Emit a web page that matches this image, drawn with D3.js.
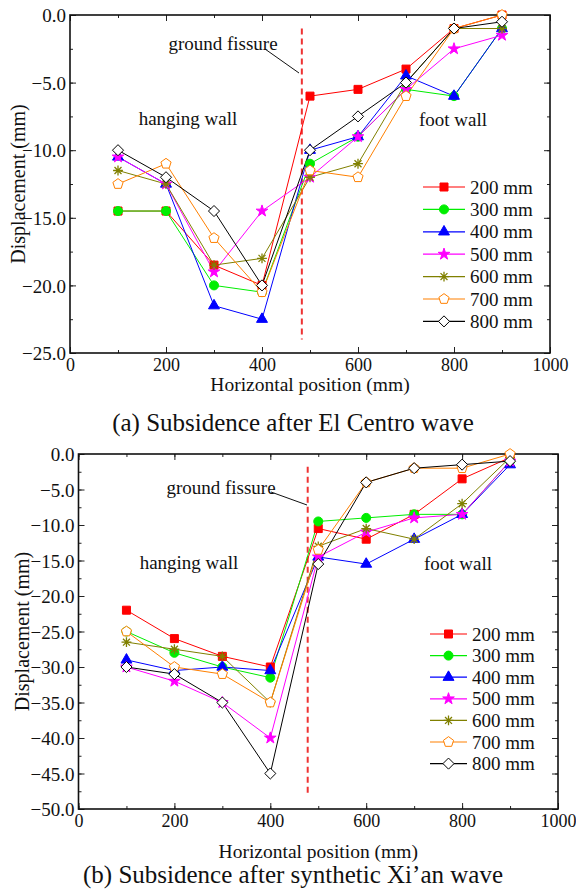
<!DOCTYPE html>
<html>
<head>
<meta charset="UTF-8">
<title>Subsidence</title>
<script src="https://cdn.jsdelivr.net/npm/d3@7/dist/d3.min.js"></script>
<style>
  body { margin: 0; background: #fff; }
  svg text { font-family: "Liberation Serif", "Times New Roman", Times, serif; fill: #111; }
</style>
</head>
<body>
<script>
// horizontal positions of the measuring points
var positions = [100, 200, 300, 400, 500, 600, 700, 800, 900];
var seriesNames = ["200 mm", "300 mm", "400 mm", "500 mm", "600 mm", "700 mm", "800 mm"];

// (a) El Centro wave
var elCentro200 = [-14.5, -14.5, -18.5, -20, -6, -5.5, -4, -1, 0];
var elCentro300 = [-14.5, -14.5, -20, -20.5, -11, -9, -5.5, -6, -1];
var elCentro400 = [-10.5, -12.5, -21.5, -22.5, -10, -9, -4.5, -6, -1];
var elCentro500 = [-10.5, -12.5, -19, -14.5, -12, -9, -5.5, -2.5, -1.5];
var elCentro600 = [-11.5, -12.5, -18.5, -18, -12, -11, -5, -1, -1];
var elCentro700 = [-12.5, -11, -16.5, -20.5, -11.5, -12, -6, -1, 0];
var elCentro800 = [-10, -12, -14.5, -20, -10, -7.5, -5, -1, -0.5];

// (b) synthetic Xi'an wave
var xian200 = [-22, -26, -28.5, -30, -10.5, -12, -8.5, -3.5, -0.5];
var xian300 = [-25, -28, -30, -31.5, -9.5, -9, -8.5, -8.5, -1];
var xian400 = [-29, -30.5, -30, -30.5, -14.5, -15.5, -12, -8.5, -1.5];
var xian500 = [-30, -32, -35, -40, -14.5, -11, -9, -8.5, -1];
var xian600 = [-26.5, -27.5, -28.5, -35, -13, -10.5, -12, -7, -0.5];
var xian700 = [-25, -30, -31, -35, -13.5, -4, -2, -2, 0];
var xian800 = [-30, -31, -35, -45, -15.5, -4, -2, -1.5, -1];

var xTicks = [0, 200, 400, 600, 800, 1000];
var yTicksA = [0, -5, -10, -15, -20, -25];
var yTicksB = [0, -5, -10, -15, -20, -25, -30, -35, -40, -45, -50];

var colors = ["#ff0000", "#00ee00", "#0000ff", "#ff00ff", "#808000", "#ff8000", "#000000"];
var FONT = "Liberation Serif, Times New Roman, serif";

// custom marker shapes
var pentagon = {
  draw: function(ctx, size) {
    var r = Math.sqrt(size) * 0.6;
    for (var i = 0; i < 5; i++) {
      var a = -Math.PI / 2 + i * 2 * Math.PI / 5;
      if (i === 0) ctx.moveTo(r * Math.cos(a), r * Math.sin(a));
      else ctx.lineTo(r * Math.cos(a), r * Math.sin(a));
    }
    ctx.closePath();
  }
};
var asterisk = {
  draw: function(ctx, size) {
    var r = Math.sqrt(size) * 0.55;
    for (var i = 0; i < 4; i++) {
      var a = i * Math.PI / 4;
      ctx.moveTo(r * Math.cos(a), r * Math.sin(a));
      ctx.lineTo(-r * Math.cos(a), -r * Math.sin(a));
    }
  }
};
var diamond = {
  draw: function(ctx, size) {
    var r = Math.sqrt(size) * 0.62;
    ctx.moveTo(0, -r); ctx.lineTo(r, 0); ctx.lineTo(0, r); ctx.lineTo(-r, 0); ctx.closePath();
  }
};
// [shape, size, filled]
var markers = [
  [d3.symbolSquare, 64, true],
  [d3.symbolCircle, 64, true],
  [d3.symbolTriangle, 52, true],
  [d3.symbolStar, 42, true],
  [asterisk, 80, false],
  [pentagon, 80, false],
  [diamond, 80, false]
];

var svg = d3.select("body").append("svg")
  .attr("width", 576)
  .attr("height", 890);

function drawPanel(p) {
  var x = d3.scaleLinear().domain([0, 1000]).range([p.left, p.right]);
  var y = d3.scaleLinear().domain([p.yMin, 0]).range([p.bottom, p.top]);
  var g = svg.append("g");

  // minor ticks (inside)
  var xMinor = d3.range(0, 1001, 100);
  var yMinor = d3.range(p.yMin, 0.01, 2.5);
  g.append("g").attr("transform", "translate(0," + p.bottom + ")")
    .call(d3.axisBottom(x).tickValues(xMinor).tickSize(-3).tickFormat(""));
  g.append("g").attr("transform", "translate(0," + p.top + ")")
    .call(d3.axisTop(x).tickValues(xMinor).tickSize(-3).tickFormat(""));
  g.append("g").attr("transform", "translate(" + p.left + ",0)")
    .call(d3.axisLeft(y).tickValues(yMinor).tickSize(-3).tickFormat(""));
  g.append("g").attr("transform", "translate(" + p.right + ",0)")
    .call(d3.axisRight(y).tickValues(yMinor).tickSize(-3).tickFormat(""));

  // major ticks
  var xb = g.append("g").attr("transform", "translate(0," + p.bottom + ")")
    .call(d3.axisBottom(x).tickValues(xTicks).tickSize(-6).tickPadding(5).tickFormat(d3.format("d")));
  g.append("g").attr("transform", "translate(0," + p.top + ")")
    .call(d3.axisTop(x).tickValues(xTicks).tickSize(-6).tickFormat(""));
  var yl = g.append("g").attr("transform", "translate(" + p.left + ",0)")
    .call(d3.axisLeft(y).tickValues(p.yTicks).tickSize(-6).tickPadding(4).tickFormat(d3.format(".1f")));
  g.append("g").attr("transform", "translate(" + p.right + ",0)")
    .call(d3.axisRight(y).tickValues(p.yTicks).tickSize(-6).tickFormat(""));

  g.selectAll(".domain").remove();
  g.selectAll(".tick line").attr("stroke", "#222").attr("stroke-width", 1);
  g.selectAll("g").attr("font-family", FONT);
  xb.selectAll("text").attr("font-size", 18).attr("fill", "#111").attr("dy", "0.71em");
  yl.selectAll("text").attr("font-size", 19).attr("fill", "#111").attr("dy", "0.35em");

  // frame
  g.append("rect")
    .attr("x", p.left).attr("y", p.top)
    .attr("width", p.right - p.left).attr("height", p.bottom - p.top)
    .attr("fill", "none").attr("stroke", "#111").attr("stroke-width", 1.6);

  // ground fissure line
  g.append("line")
    .attr("x1", x(p.fissureX)).attr("x2", x(p.fissureX))
    .attr("y1", y(p.fissureTop)).attr("y2", y(p.fissureBottom))
    .attr("stroke", "#ee3333").attr("stroke-width", 2).attr("stroke-dasharray", "6,4");

  // series
  var line = d3.line().x(function(d) { return x(d[0]); }).y(function(d) { return y(d[1]); });
  p.series.forEach(function(vals, i) {
    var pts = positions.map(function(px, k) { return [px, vals[k]]; });
    g.append("path").datum(pts)
      .attr("d", line).attr("fill", "none")
      .attr("stroke", colors[i]).attr("stroke-width", 1);
  });
  p.series.forEach(function(vals, i) {
    var m = markers[i];
    var sym = d3.symbol().type(m[0]).size(m[1]);
    g.selectAll(null).data(positions.map(function(px, k) { return [px, vals[k]]; }))
      .enter().append("path")
      .attr("transform", function(d) { return "translate(" + x(d[0]) + "," + y(d[1]) + ")"; })
      .attr("d", sym)
      .attr("fill", m[2] ? colors[i] : (i === 4 ? "none" : "#fff"))
      .attr("stroke", colors[i]).attr("stroke-width", i === 4 ? 1.3 : 1);
  });

  // texts
  g.append("text").attr("x", p.fissureLabel[0]).attr("y", p.fissureLabel[1])
    .attr("text-anchor", "middle").attr("font-size", 19).text("ground fissure");
  g.append("line")
    .attr("x1", p.leader[0]).attr("y1", p.leader[1])
    .attr("x2", p.leader[2]).attr("y2", p.leader[3])
    .attr("stroke", "#111").attr("stroke-width", 1);
  g.append("text").attr("x", p.hanging[0]).attr("y", p.hanging[1])
    .attr("text-anchor", "middle").attr("font-size", 19).text("hanging wall");
  g.append("text").attr("x", p.foot[0]).attr("y", p.foot[1])
    .attr("text-anchor", "middle").attr("font-size", 19).text("foot wall");

  g.append("text")
    .attr("transform", "translate(" + p.yTitleX + "," + ((p.top + p.bottom) / 2) + ") rotate(-90)")
    .attr("text-anchor", "middle").attr("font-size", 20).text("Displacement (mm)");
  g.append("text").attr("x", (p.left + p.right) / 2).attr("y", p.xTitleY)
    .attr("text-anchor", "middle").attr("font-size", 19.5).text("Horizontal position (mm)");
  g.append("text").attr("x", p.captionX).attr("y", p.captionY)
    .attr("text-anchor", "middle").attr("font-size", 25).text(p.caption);

  // legend
  seriesNames.forEach(function(name, i) {
    var ly = p.legend.y + i * p.legend.step;
    var lg = g.append("g");
    lg.append("line")
      .attr("x1", p.legend.x).attr("x2", p.legend.x + p.legend.len)
      .attr("y1", ly).attr("y2", ly)
      .attr("stroke", colors[i]).attr("stroke-width", 1.2);
    var m = markers[i];
    lg.append("path")
      .attr("transform", "translate(" + (p.legend.x + p.legend.len / 2) + "," + ly + ")")
      .attr("d", d3.symbol().type(m[0]).size(m[1]))
      .attr("fill", m[2] ? colors[i] : (i === 4 ? "none" : "#fff"))
      .attr("stroke", colors[i]).attr("stroke-width", i === 4 ? 1.3 : 1);
    lg.append("text")
      .attr("x", p.legend.x + p.legend.len + 5).attr("y", ly)
      .attr("dy", "0.35em").attr("font-size", 19).text(name);
  });
}

drawPanel({
  left: 70, right: 550, top: 15, bottom: 353,
  yMin: -25, yTicks: yTicksA,
  series: [elCentro200, elCentro300, elCentro400, elCentro500, elCentro600, elCentro700, elCentro800],
  fissureX: 483, fissureTop: -1, fissureBottom: -24,
  fissureLabel: [223, 50], leader: [265, 49, 299, 73],
  hanging: [188, 125], foot: [453, 126],
  yTitleX: 25, xTitleY: 391, captionX: 293, captionY: 431,
  caption: "(a) Subsidence after El Centro wave",
  legend: { x: 423, len: 42, y: 187, step: 22.4 }
});

drawPanel({
  left: 78.5, right: 558, top: 454, bottom: 809,
  yMin: -50, yTicks: yTicksB,
  series: [xian200, xian300, xian400, xian500, xian600, xian700, xian800],
  fissureX: 478, fissureTop: -1.8, fissureBottom: -48,
  fissureLabel: [221, 494], leader: [271, 492, 307, 505],
  hanging: [189, 569], foot: [458, 570],
  yTitleX: 29, xTitleY: 858, captionX: 293, captionY: 883,
  caption: "(b) Subsidence after synthetic Xi\u2019an wave",
  legend: { x: 430, len: 37, y: 634, step: 21.6 }
});
</script>
</body>
</html>
